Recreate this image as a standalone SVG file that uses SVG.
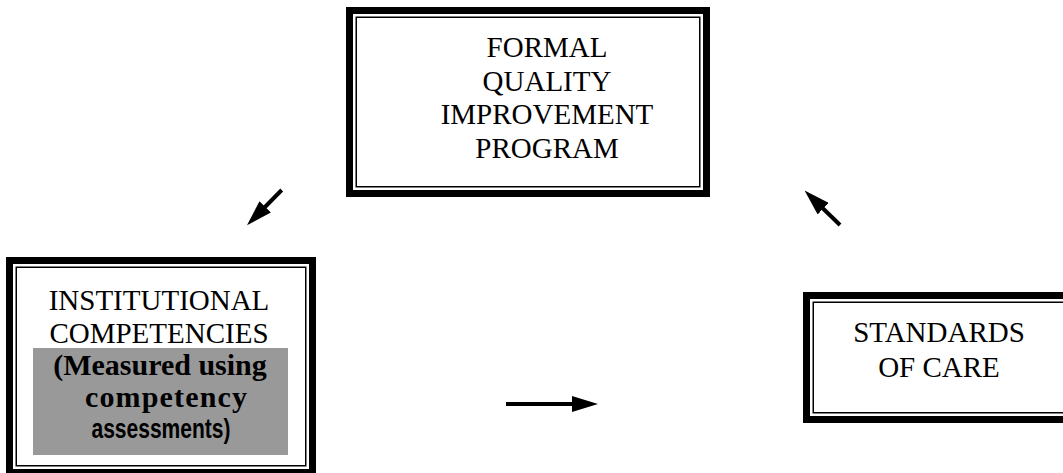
<svg xmlns="http://www.w3.org/2000/svg" width="1063" height="473" viewBox="0 0 1063 473">
<style>
.outer{fill:#fff;stroke:#000;stroke-width:7}
.inner{fill:none;stroke:#000;stroke-width:1.5}
.t{font-family:"Liberation Serif","Times New Roman",serif;font-size:29px;fill:#000;text-anchor:middle}
.b{font-family:"Liberation Serif","Times New Roman",serif;font-size:30px;font-weight:bold;fill:#000;text-anchor:middle}
.s{font-family:"Liberation Sans",Arial,sans-serif;font-size:27px;font-weight:bold;fill:#000;text-anchor:middle}
.c{stroke:#000;stroke-width:4;fill:none}
</style>
<defs>
<marker id="ah" viewBox="0 0 26 16" refX="1" refY="8" markerWidth="26" markerHeight="16" markerUnits="userSpaceOnUse" orient="auto">
<path d="M0,0 L26,8 L0,16 z" fill="#000"/>
</marker>
</defs>
<rect width="1063" height="473" fill="#fff"/>
<g id="formal-qip">
<rect class="outer" x="349.5" y="10.5" width="357" height="183"/>
<rect class="inner" x="356.25" y="17.25" width="343.5" height="169.5"/>
<text class="t" x="547" y="57">FORMAL</text>
<text class="t" x="547" y="90.5">QUALITY</text>
<text class="t" x="547" y="124">IMPROVEMENT</text>
<text class="t" x="547" y="157.5">PROGRAM</text>
</g>
<g id="institutional">
<rect class="outer" x="9.5" y="260.5" width="303" height="212"/>
<rect class="inner" x="16.25" y="267.25" width="289.5" height="198.5"/>
<rect x="33" y="348" width="255" height="107" fill="#999"/>
<text class="t" x="159" y="310">INSTITUTIONAL</text>
<text class="t" x="159" y="343">COMPETENCIES</text>
<text class="b" x="160" y="375">(Measured using</text>
<text class="b" x="166" y="407" textLength="162">competency</text>
<text class="s" x="161" y="438" textLength="139" lengthAdjust="spacingAndGlyphs">assessments)</text>
</g>
<g id="standards">
<rect class="outer" x="806.5" y="295.5" width="265" height="124"/>
<rect class="inner" x="813.25" y="302.25" width="260" height="110.5"/>
<text class="t" x="939" y="342">STANDARDS</text>
<text class="t" x="939" y="377">OF CARE</text>
</g>
<g id="connectors">
<line class="c" x1="281.7" y1="190" x2="264.5" y2="207.5" marker-end="url(#ah)"/>
<line class="c" x1="840" y1="225" x2="822.5" y2="208" marker-end="url(#ah)"/>
<line class="c" x1="506" y1="404" x2="573" y2="404" marker-end="url(#ah)"/>
</g>
</svg>
